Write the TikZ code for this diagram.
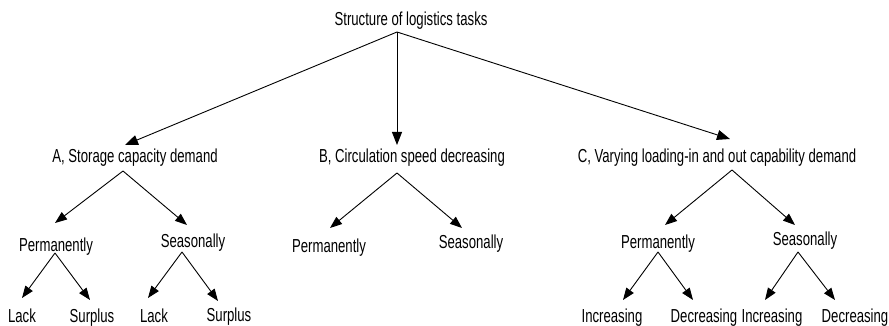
\documentclass[tikz,border=0pt]{standalone}
\usepackage{fontspec}
\setmainfont{Liberation Sans}[FakeStretch=0.70]
\usetikzlibrary{arrows.meta}
\begin{document}
\begin{tikzpicture}[x=1pt,y=-1pt,
  lbl/.style={anchor=base,inner sep=0pt,font=\fontsize{18.8}{20}\selectfont},
  arr/.style={line width=0.9pt,-{Triangle[length=13pt,width=10pt]}},
  arrs/.style={line width=0.9pt,-{Triangle[length=12pt,width=9pt]}}]
\useasboundingbox[fill=white] (0,0) rectangle (889,326);
% texts
\node[lbl] (root) at (411,26) {Structure of logistics tasks};
\node[lbl] (A) at (135,163) {A, Storage capacity demand};
\node[lbl] (B) at (412,163) {B, Circulation speed decreasing};
\node[lbl] (C) at (717,163) {C, Varying loading-in and out capability demand};
\node[lbl] (AP) at (56,251) {Permanently};
\node[lbl] (AS) at (193,247) {Seasonally};
\node[lbl] (BP) at (329,252) {Permanently};
\node[lbl] (BS) at (471,248) {Seasonally};
\node[lbl] (CP) at (658,248) {Permanently};
\node[lbl] (CS) at (805,245) {Seasonally};
\node[lbl] (L1) at (22,322) {Lack};
\node[lbl] (S1) at (92,322) {Surplus};
\node[lbl] (L2) at (154,322) {Lack};
\node[lbl] (S2) at (229,321) {Surplus};
\node[lbl] (I1) at (612,322) {Increasing};
\node[lbl] (D1) at (704,322) {Decreasing};
\node[lbl] (I2) at (772,322) {Increasing};
\node[lbl] (D2) at (855,322) {Decreasing};
% connector points
\coordinate (r0) at (397,32);
\coordinate (aT) at (125,145);
\coordinate (bT) at (397,145);
\coordinate (cT) at (730,139);
\coordinate (a0) at (123,171);
\coordinate (apT) at (55,223);
\coordinate (asT) at (187,225);
\coordinate (b0) at (397,173);
\coordinate (bpT) at (330,228);
\coordinate (bsT) at (462,228);
\coordinate (c0) at (732,170);
\coordinate (cpT) at (665,225);
\coordinate (csT) at (795,225);
\coordinate (ap0) at (55,253);
\coordinate (l1T) at (22,298);
\coordinate (s1T) at (90,300);
\coordinate (as0) at (182,252);
\coordinate (l2T) at (148,298);
\coordinate (s2T) at (218,301);
\coordinate (cp0) at (658,252);
\coordinate (i1T) at (623,300);
\coordinate (d1T) at (693,300);
\coordinate (cs0) at (798,252);
\coordinate (i2T) at (765,300);
\coordinate (d2T) at (835,300);
% connectors
\draw[arr] (r0) -- (aT);
\draw[arr] (r0) -- (bT);
\draw[arr] (r0) -- (cT);
\draw[arrs] (a0) -- (apT);
\draw[arrs] (a0) -- (asT);
\draw[arrs] (b0) -- (bpT);
\draw[arrs] (b0) -- (bsT);
\draw[arrs] (c0) -- (cpT);
\draw[arrs] (c0) -- (csT);
\draw[arrs] (ap0) -- (l1T);
\draw[arrs] (ap0) -- (s1T);
\draw[arrs] (as0) -- (l2T);
\draw[arrs] (as0) -- (s2T);
\draw[arrs] (cp0) -- (i1T);
\draw[arrs] (cp0) -- (d1T);
\draw[arrs] (cs0) -- (i2T);
\draw[arrs] (cs0) -- (d2T);
\end{tikzpicture}
\end{document}
